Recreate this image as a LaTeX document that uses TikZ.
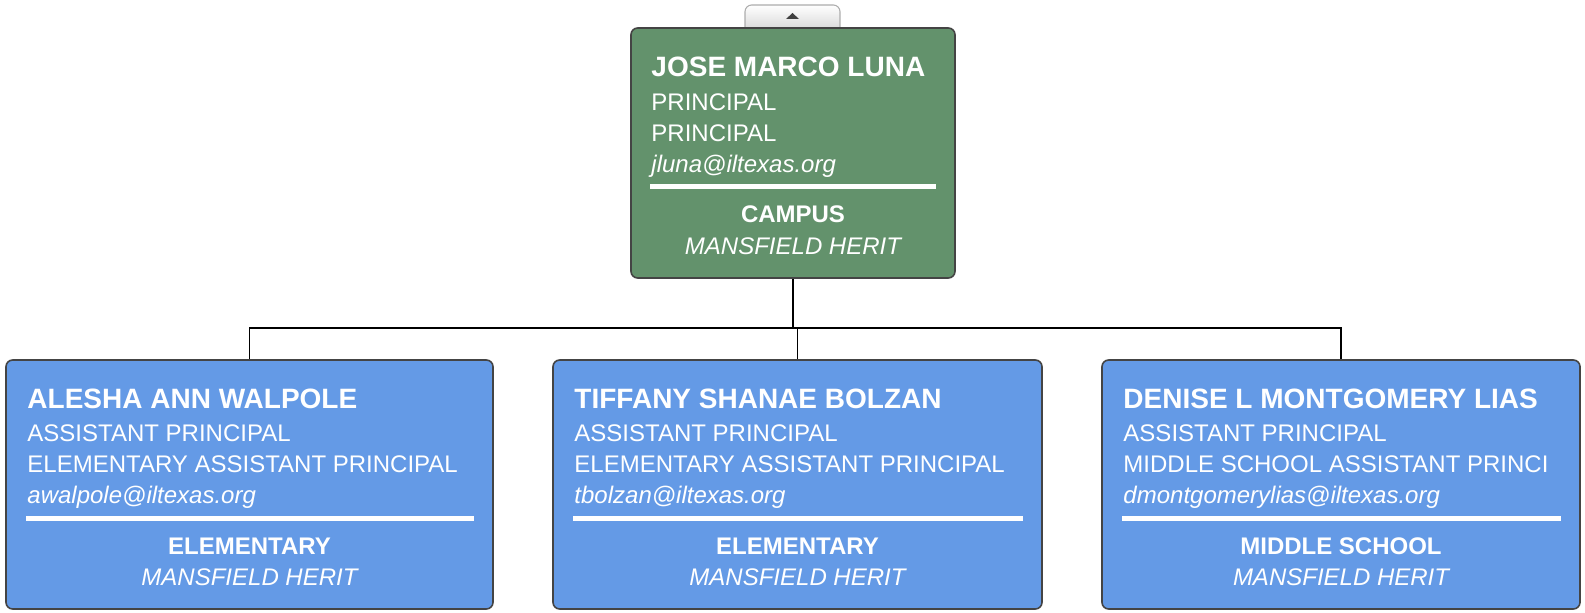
\documentclass[tikz,border=0pt]{standalone}
\usepackage{fontspec}
\setmainfont{Liberation Sans}
\usetikzlibrary{calc}

\definecolor{headgreen}{RGB}{99,146,108}
\definecolor{staffblue}{RGB}{100,154,230}
\definecolor{boxrim}{RGB}{68,68,68}

\begin{document}
\begin{tikzpicture}[x=0.75pt, y=-0.75pt,
  card/.style={draw=boxrim, line width=1.2pt, rounded corners=5pt, inner sep=0pt},
  topcard/.style={card, fill=headgreen, minimum width=243pt, minimum height=187.5pt},
  subcard/.style={card, fill=staffblue, minimum height=186.75pt},
  who/.style={anchor=base west, inner sep=0pt, text=white, font=\fontsize{21}{25}\selectfont\bfseries},
  info/.style={anchor=base west, inner sep=0pt, text=white, font=\fontsize{18}{22}\selectfont},
  mail/.style={info, font=\fontsize{18}{22}\selectfont\itshape},
  deptname/.style={anchor=base, inner sep=0pt, text=white, font=\fontsize{18}{22}\selectfont\bfseries},
  site/.style={deptname, font=\fontsize{18}{22}\selectfont\itshape},
  divider/.style={draw=white, line width=3.75pt},
  link/.style={draw=black, line width=1.1pt}
]
\useasboundingbox (0,0) rectangle (1585,613);

% collapse tab above the principal
\shade[top color=white, bottom color=gray!28, draw=gray!65, line width=0.8pt, rounded corners=5pt]
  (745,28) -- (745,5) -- (840,5) -- (840,28);
\fill[black!75] (786,19) -- (799,19) -- (792.5,13) -- cycle;

% principal
\node[topcard] (luna) at (793,153) {};
\node[who]  at ($(luna.north west)+(21,49)$)  {JOSE MARCO LUNA};
\node[info] at ($(luna.north west)+(21,83)$)  {PRINCIPAL};
\node[info] at ($(luna.north west)+(21,114)$) {PRINCIPAL};
\node[mail] at ($(luna.north west)+(21,145)$) {jluna@iltexas.org};
\draw[divider] ($(luna.north west)+(20,159)$) -- ($(luna.north east)+(-20,159)$);
\node[deptname] at ($(luna.north)+(0,195)$) {CAMPUS};
\node[site] at ($(luna.north)+(0,227)$) {MANSFIELD HERIT};

% assistant principals
\foreach \cx/\pw/\pid/\pname/\ptitle/\pmail/\punit in {
  249.5/365.25/walpole/ALESHA ANN WALPOLE/ELEMENTARY ASSISTANT PRINCIPAL/awalpole@iltexas.org/ELEMENTARY,
  797.5/366.75/bolzan/TIFFANY SHANAE BOLZAN/ELEMENTARY ASSISTANT PRINCIPAL/tbolzan@iltexas.org/ELEMENTARY,
  1341/358.5/lias/DENISE L MONTGOMERY LIAS/MIDDLE SCHOOL ASSISTANT PRINCI/dmontgomerylias@iltexas.org/MIDDLE SCHOOL}{
  \node[subcard, minimum width=\pw pt] (\pid) at (\cx,484.5) {};
  \node[who]  at ($(\pid.north west)+(22,49)$)  {\pname};
  \node[info] at ($(\pid.north west)+(22,82)$)  {ASSISTANT PRINCIPAL};
  \node[info] at ($(\pid.north west)+(22,113)$) {\ptitle};
  \node[mail] at ($(\pid.north west)+(22,144)$) {\pmail};
  \draw[divider] ($(\pid.north west)+(21,159.5)$) -- ($(\pid.north east)+(-20,159.5)$);
  \node[deptname] at ($(\pid.north)+(0,195)$) {\punit};
  \node[site] at ($(\pid.north)+(0,226)$) {MANSFIELD HERIT};
}

% reporting lines
\coordinate (bus) at (0,328);
\draw[link] (luna.south) -- (luna.south |- bus);
\draw[link] (walpole.north) |- (bus -| lias.north) -- (lias.north);
\draw[link] (bolzan.north) -- (bolzan.north |- bus);

\end{tikzpicture}
\end{document}
